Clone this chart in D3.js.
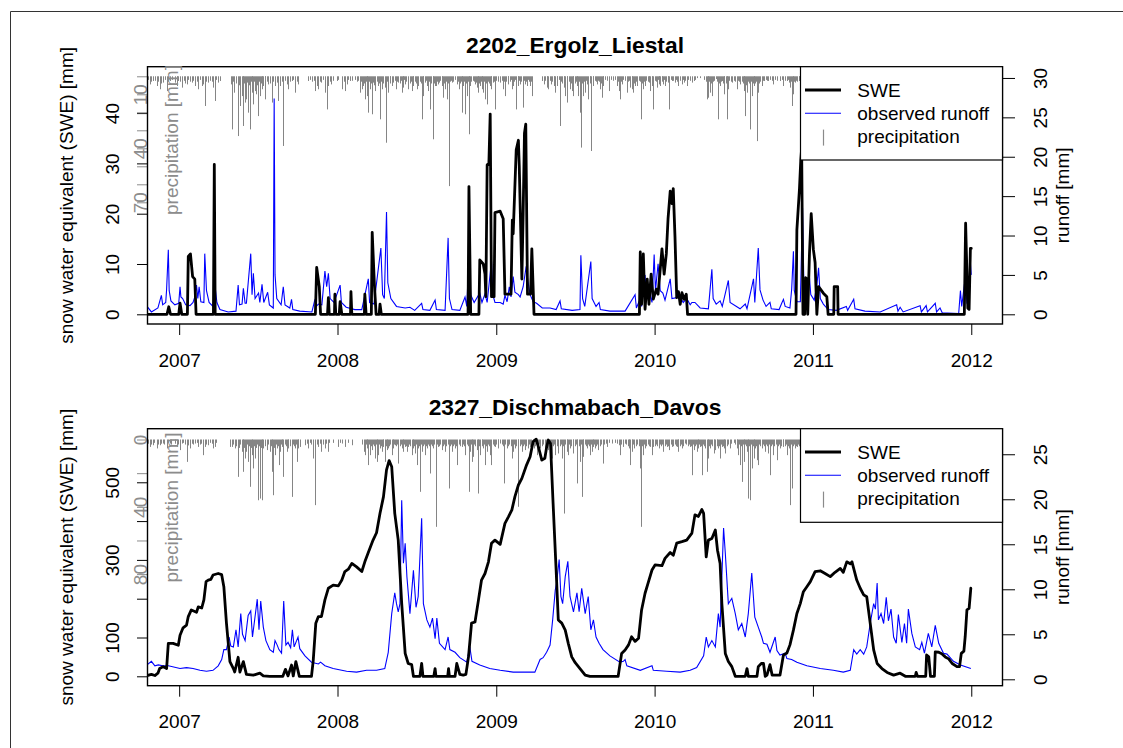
<!DOCTYPE html>
<html><head><meta charset="utf-8">
<script src="https://cdn.jsdelivr.net/npm/d3@7"></script>
<style>
body{margin:0;background:#fff;}
svg{display:block;font-family:"Liberation Sans",Arial,Helvetica,sans-serif;}
</style></head><body>
<svg id="chart" width="1123" height="748"></svg>
<script>
// Daily series sampled as [day offset from 2007-01-01, value] pairs.

// ---- 2202_Ergolz_Liestal ----
const ergolzSWE = [[-74,0],[-28,0],[-24,1.5],[-20,0],[-1,0],[2,2.2],[6,0],[19,0],[21,11.5],[26,12],[31,7.5],[36,7],[39,0],[79,0],[81,29.8],[83,0],
[314,0],[317,9.3],[323,5.5],[326,0],[342,0],[344,3.3],[346,0],[358,0],[359,4],[361,0],[369,0],[371,2.5],[375,0],[395,0],[396,4.5],[398,0],[427,0],[428,4],[431,0],[443,0],[445,16.3],[450,6],[454,0],[461,0],[463,2],[466,0],
[666,0],[668,25.4],[672,0],[691,0],[693,10.8],[701,10],[705,8],[707,3.5],[710,29.7],[714,30],[717,39.8],[720,3.5],[726,3.5],[728,20.2],[740,20.5],[747,19],[751,4],[765,4],[768,18.7],[770,16],[777,32.7],[782,34.6],[784,29.5],[790,7],[793,20],[796,36],[799,37.8],[803,4],[810,4],[813,13],[818,0],
[1061,0],[1063,12.4],[1066,2],[1070,12],[1074,1],[1079,7],[1083,2],[1088,8],[1093,3],[1100,5],[1104,4],[1113,13],[1118,8],[1123,12],[1127,19],[1132,24.5],[1136,22],[1139,25],[1143,15.4],[1147,3.3],[1151,4.5],[1155,2],[1159,4.3],[1164,3],[1169,4],[1172,0],
[1422,0],[1424,16.8],[1430,25],[1433,30.7],[1435,33],[1438,0],[1442,0],[1444,7.3],[1447,7],[1449,0],[1453,12],[1457,20],[1462,12.9],[1466,10.3],[1470,0],[1474,5.5],[1485,4.2],[1493,3.5],[1496,0],[1509,0],[1510,5.5],[1518,5.5],[1519,0],
[1810,0],[1813,18.1],[1818,1.2],[1821,1],[1824,13.1],[1826,13.1]];

const ergolzRunoff = [[-74,1.0],[-64,0.3],[-49,0.8],[-41,2.4],[-38,1.2],[-31,1.5],[-29,3.1],[-25,8.2],[-23,3],[-19,1.7],[-10,1.2],[-1,1.4],[2,3.5],[4,2.2],[8,2],[15,1.2],[25,1.1],[32,1.5],[36,2.2],[40,3.7],[43,2],[46,3.5],[50,1.6],[57,1.5],[59,7.7],[63,3],[69,1.5],[78,1.0],[82,3.9],[87,1.5],[94,0.6],[113,0.3],[131,0.4],
[136,3.7],[139,1.2],[145,1.3],[148,3.3],[152,1.4],[155,1.4],[165,7.7],[168,2.5],[171,5.2],[175,2],[183,2.7],[186,1.5],[191,3.8],[195,1.5],[204,2.8],[208,1.2],[217,0.8],[219,27.4],[221,5],[225,2],[235,1.2],[240,3.5],[244,1.2],[255,0.8],[259,1.9],[262,0.6],[278,0.4],[306,0.3],
[313,1.9],[316,1.0],[321,1.3],[329,1.2],[336,5.5],[340,3.5],[344,5.2],[348,2],[357,1.5],[371,3.7],[374,1.5],[385,0.9],[405,0.6],[421,0.6],[436,4.5],[439,1.5],[449,1.3],[465,8.4],[469,2.5],[473,2],[478,13.0],[481,4],[488,2],[501,1.0],[521,0.8],[532,0.9],[543,0.5],[559,1.4],[562,0.6],[578,0.5],[590,1.8],[593,0.6],[613,0.5],
[620,9.7],[623,2],[629,0.6],[647,0.5],[659,2.2],[663,1],[668,7.4],[672,2.5],[680,1.5],[693,2.7],[698,1.5],[705,2.6],[710,1.5],[720,6.8],[723,2.5],[728,1.5],[740,1.5],[747,1.3],[751,2.4],[756,1.6],[761,3.5],[765,2.2],[770,4.8],[774,2.8],[782,2.5],[786,2.2],[793,3.5],[800,6.1],[804,4.2],[809,2.5],[816,1.6],[824,1.4],[837,0.8],[855,0.8],[869,0.6],[878,1.7],[881,0.7],[906,0.5],
[924,0.6],[926,7.5],[930,2],[935,1],[949,6.7],[952,2],[961,1],[968,1.5],[971,0.6],[993,0.4],[1028,0.4],[1051,2.5],[1054,0.8],[1063,2],[1066,1],[1074,5],[1077,2],[1085,2.6],[1090,1.5],[1095,7.6],[1098,3],[1104,6.4],[1109,3],[1115,2.7],[1120,1.8],[1132,4.5],[1136,2],[1155,2.2],[1162,1.5],[1170,2],[1178,1.2],[1182,1.5],[1189,1.5],[1201,0.8],[1220,0.7],
[1228,5.7],[1231,2],[1238,1.3],[1247,1.7],[1252,1],[1266,4.3],[1270,1.5],[1293,0.7],[1305,1.3],[1309,0.7],[1324,4.5],[1327,1.5],[1335,8.4],[1339,3.1],[1346,1.8],[1353,1],[1362,1.5],[1365,0.7],[1383,0.6],[1389,1.4],[1393,1.9],[1397,1],[1408,0.8],[1412,3.2],[1416,8.0],[1418,3],[1424,1.6],[1432,1.6],[1437,13.5],[1440,4],[1441,2.2],[1448,2],[1452,5.4],[1456,2.5],[1464,1.8],[1470,3.7],[1474,5.9],[1478,2],[1485,1.3],[1496,0.6],[1515,0.5],
[1538,1.0],[1541,0.5],[1555,1.9],[1558,0.7],[1581,0.4],[1616,0.3],[1654,1.2],[1657,0.4],[1662,0.9],[1669,0.3],[1708,1.1],[1711,0.3],[1722,1.1],[1725,0.3],[1743,1.4],[1746,0.3],[1754,0.8],[1759,0.2],[1797,0.1],[1801,3.0],[1804,1],[1812,4.6],[1816,1.4],[1821,1.2],[1824,6.5],[1826,5]];

// larger daily precipitation totals
const ergolzPrecip = [[-68,4.5],[-60,2.6],[-52,5.4],[-45,7.2],[-37,3.5],[-29,8.2],[-21,2.6],[-6,5.4],[-2,2.6],[6,6.3],[17,4.5],[29,3.5],[36,5.4],[44,7.2],[52,5.4],[55,4.5],[59,16.5],[67,3.5],[79,6.3],[82,13.7],[94,2.6],
[119,4.5],[122,29.5],[127,9.1],[135,33.2],[140,16.5],[144,11],[148,27.6],[152,14.6],[155,12.8],[159,20.2],[163,29.5],[167,9.1],[171,15.6],[175,8.2],[178,10],[182,22.1],[186,11],[190,7.2],[194,5.4],[199,12.8],[205,4.5],[213,14.6],[221,5.4],[228,13.7],[232,5.4],[240,38.7],[248,4.5],[252,7.2],[259,2.6],[267,9.1],[275,4.5],
[298,2.6],[313,8.2],[317,5.4],[321,7.2],[328,3.5],[336,9.1],[340,18.4],[344,5.4],[351,4.5],[363,2.6],[375,7.2],[382,8.2],[386,4.5],[394,2.6],[417,9.1],[421,7.2],[424,5.4],[428,12.8],[432,11],[436,20.2],[440,7.2],[444,21.1],[451,8.2],[459,5.4],[463,23.9],[467,7.2],[474,6.3],[477,36.9],[482,9.1],[490,5.4],[501,7.2],[505,3.5],[513,9.1],[517,6.3],[521,4.5],[528,7.2],[536,8.2],[540,5.4],[548,7.2],[551,5.4],[559,23.9],[563,11],[571,5.4],[574,8.2],[578,18.4],[586,35],[590,5.4],
[592,5.4],[597,4.5],[605,5.4],[609,11.9],[613,7.2],[617,12.8],[621,61],[628,3.5],[640,4.5],[644,7.2],[651,20.2],[655,5.4],[659,21.1],[663,11],[667,32.2],[670,5.4],[682,4.5],[686,6.3],[690,9.1],[694,5.4],[697,7.2],[701,9.1],[705,12.8],[709,15.6],[717,5.4],[720,7.2],[728,18.4],[740,3.5],[747,7.2],[751,11],[759,4.5],[767,7.2],[770,5.4],[777,18.4],[782,5.4],[786,4.5],[792,17.4],[797,4.5],[801,5.4],[809,5.4],[813,11],
[836,2.6],[840,4.5],[847,6.3],[851,7.2],[857,4.5],[863,5.4],[867,9.1],[870,5.4],[877,27.6],[886,6.3],[890,11],[895,14.6],[901,7.2],[905,8.2],[909,11],[916,5.4],[920,11],[924,20.2],[926,39.6],[932,11],[936,9.1],[940,4.5],[943,12.8],[950,41.5],[955,5.4],[963,4.5],[970,7.2],[974,11.9],[978,5.4],[992,8.2],
[1009,5.4],[1013,8.2],[1016,12.8],[1020,4.5],[1032,9.1],[1040,6.3],[1043,7.2],[1047,9.1],[1051,5.4],[1056,5.4],[1064,23.9],[1070,7.2],[1074,5.4],[1082,3.5],[1086,8.2],[1089,5.4],[1093,18.4],[1101,6.3],[1105,4.5],[1109,5.4],[1116,4.5],[1120,5.4],[1126,3.5],[1130,18.4],[1136,2.6],[1143,3.5],[1151,5.4],[1159,4.5],[1163,3.5],[1170,5.4],[1182,3.5],[1186,2.6],[1193,1],[1201,1],
[1216,12.8],[1220,11.9],[1224,9.1],[1228,11],[1238,1.5],[1243,23.9],[1247,5.4],[1251,2.6],[1255,10],[1262,23.9],[1266,7.2],[1274,3.5],[1285,7.2],[1293,4.5],[1301,8.2],[1305,22.1],[1309,9.1],[1316,29.5],[1320,11],[1324,5.4],[1332,36],[1335,9.1],[1343,5.4],[1349,2.6],[1358,2.6],[1370,4.5],[1385,2.6],[1393,5.4],[1401,2.6],[1405,3.5],[1408,6.3],[1412,16.5],[1416,10],[1420,3.5],[1428,2.6]];

// small daily totals in between
const ergolzPrecipSmall = [[-71,2],[-64,3],[-56,2.5],[-48,3],[-41,4],[-33,2],[-25,3],[-17,2],[-10,3.5],[-4,2],[2,3],[10,2.5],[13,4],[21,2],[25,3],[33,2.5],[40,3],[48,2],[63,3],[71,2.5],[75,3],[86,2],[90,3.5],
[124,3],[130,4],[138,5],[146,3],[150,4],[157,3.5],[161,5],[165,3],[169,4],[173,3],[180,5],[184,3],[188,4],[192,3],[197,2.5],[202,3],[209,4],[217,3],[225,3.5],[236,3],[244,2.5],[255,3],[263,2],[271,3],
[302,2],[306,3],[310,2.5],[325,3],[332,2],[347,3],[355,2.5],[367,2],[379,3],[390,2],[398,2.5],[405,2],[410,3],[413,2.5],[419,3],[426,4],[430,3],[434,4],[438,3],[442,4],[447,3.5],[449,5],[455,3],[461,4],[465,3],[470,4],[479,3],[485,4],[487,3],[494,3.5],[497,2.5],[503,3],[509,4],[511,2.5],[515,3],[519,2],[524,3],[531,4],[534,3],[538,2.5],[544,3],[546,4],[555,3],[557,4],[561,3],[566,3.5],[569,2.5],[576,3],[581,4],[584,3],[588,4],
[594,3],[600,3.5],[602,2.5],[607,3],[611,4],[615,3],[619,4],[624,3],[626,2.5],[632,3],[636,2],[642,3],[647,4],[649,3],[653,4],[657,3],[661,4],[665,3],[669,4],[673,3],[677,2.5],[680,3],[684,3.5],[688,3],[692,4],[696,3],[699,2.5],[703,3],[707,4],[711,3],[714,4],[719,3],[723,3.5],[726,3],[731,2.5],[735,3],[744,2.5],[749,3],[754,3],[757,2.5],[762,3],[765,2],[773,3],[775,2],[780,3],[784,2.5],[789,3],[795,2.5],[799,3],[803,2],[806,3],[811,3],
[843,2.5],[849,3],[854,2.5],[860,3],[865,2.5],[872,3],[875,2],[880,3],[883,4],[888,3],[893,4],[898,3],[903,4],[907,3],[912,4],[914,3],[918,4],[922,3],[929,4],[934,3],[938,2.5],[946,3],[948,4],[953,3],[958,2.5],[961,3],[966,2.5],[968,3],[972,4],[976,3],[981,2],[986,2.5],[995,2],[1001,2.5],[1005,2],[1011,3],[1018,3],[1023,2],[1028,2.5],[1035,3],[1038,2.5],[1045,3],[1049,4],[1054,3],[1059,2.5],[1062,3],[1067,4],[1072,3],[1077,2.5],[1080,3],[1084,2.5],[1091,3],[1096,2.5],[1099,3],[1103,2],[1107,3],[1112,2.5],[1114,3],[1118,2],[1123,3],[1128,2.5],[1133,2],[1139,2.5],[1146,2],[1148,3],[1155,2.5],[1161,2],[1167,2.5],[1173,2],[1178,2.5],[1190,2],
[1211,2],[1214,3],[1218,4],[1222,3],[1226,4],[1230,3],[1233,2.5],[1241,3],[1245,4],[1249,3],[1253,4],[1257,3],[1260,4],[1264,3],[1268,2.5],[1271,3],[1278,2.5],[1281,3],[1288,2.5],[1290,3],[1297,3],[1299,4],[1303,3],[1307,5],[1311,3],[1313,4],[1318,3],[1322,4],[1326,3],[1328,4],[1330,3],[1337,4],[1340,3],[1346,2.5],[1352,2],[1355,2.5],[1362,2],[1366,2.5],[1374,2],[1378,2.5],[1389,2],[1397,2.5],[1403,2],[1410,3],[1414,4],[1418,3],[1422,2.5],[1425,3],[1430,2.5]];

// ---- 2327_Dischmabach_Davos ----
const davosSWE = [[-74,2],[-64,5],[-56,2],[-49,8],[-45,20],[-37,25],[-29,20],[-25,85],[-14,85],[-2,80],[2,106],[9,125],[17,132],[21,154],[28,171],[40,165],[44,179],[52,176],[57,197],[62,244],[67,248],[73,250],[78,261],[90,265],[98,262],[103,231],[109,137],[117,38],[125,20],[128,11],[136,49],[140,11],[148,38],[155,5],[171,3],[186,8],[194,1],[209,0],[239,0],[245,18],[251,1],[259,29],[263,1],[269,38],[277,0],
[305,0],[309,40],[315,137],[321,154],[328,154],[336,197],[344,227],[355,235],[367,233],[375,248],[382,270],[390,276],[398,291],[409,282],[421,270],[428,295],[436,319],[447,351],[455,370],[463,420],[471,463],[478,532],[484,556],[490,540],[497,420],[505,351],[513,188],[521,59],[528,33],[536,30],[540,0],[555,0],[559,33],[562,0],[587,0],[590,20],[592,0],[619,0],[621,20],[623,0],[636,0],[640,33],[647,5],[655,3],[661,5],
[667,50],[674,137],[682,140],[690,197],[697,248],[705,265],[713,295],[720,343],[728,351],[740,340],[751,394],[759,411],[767,429],[774,463],[782,493],[790,510],[801,545],[809,566],[816,605],[823,611],[828,592],[836,557],[843,562],[847,590],[851,609],[856,600],[862,446],[869,274],[874,145],[882,137],[890,119],[897,85],[905,50],[913,35],[924,20],[936,3],[947,0],
[1012,0],[1020,59],[1028,68],[1036,81],[1043,102],[1051,90],[1059,98],[1066,171],[1074,214],[1082,244],[1090,274],[1097,287],[1113,285],[1120,304],[1132,319],[1139,312],[1147,343],[1159,347],[1170,351],[1182,369],[1189,416],[1197,412],[1205,430],[1209,420],[1215,308],[1220,351],[1228,355],[1236,377],[1241,325],[1247,291],[1251,188],[1259,59],[1266,38],[1274,25],[1282,0],[1305,0],[1309,20],[1312,0],[1332,0],[1335,25],[1342,33],[1347,33],[1351,0],[1355,3],[1362,30],[1367,3],[1385,3],
[1393,55],[1401,60],[1408,81],[1416,119],[1424,162],[1432,188],[1439,218],[1447,231],[1455,244],[1466,270],[1478,272],[1489,265],[1501,257],[1512,268],[1524,278],[1531,268],[1539,295],[1547,290],[1551,295],[1562,248],[1570,227],[1578,210],[1585,205],[1593,137],[1601,68],[1609,33],[1620,20],[1632,10],[1647,3],[1662,8],[1674,0],[1697,0],[1699,10],[1702,0],[1721,0],[1723,55],[1728,50],[1732,0],[1741,0],[1743,63],[1751,62],[1758,58],[1766,50],[1774,45],[1782,33],[1793,25],[1799,25],[1803,59],[1809,65],[1812,102],[1816,171],[1821,175],[1825,227]];

const davosRunoff = [[-74,1.6],[-64,2.0],[-56,1.5],[-48,1.6],[-38,1.5],[-25,1.5],[-15,1.4],[2,1.2],[17,1.3],[32,1.2],[48,1.0],[63,0.9],[78,1.0],[90,1.5],[98,2.2],[103,3.3],[109,3.3],[115,4.7],[119,3.7],[125,3.6],[131,5.5],[136,3.6],[142,7.3],[146,5],[152,4.3],[159,7.1],[165,7.6],[169,4.7],[180,8.9],[184,5.5],[188,8.7],[194,5.8],[200,4.3],[209,3.3],[217,3.0],[221,4.3],[226,3.8],[230,3.3],[236,2.9],[241,8.7],[246,3.8],[251,4.1],[257,3.5],[261,5.5],[265,3.6],[274,4.7],[278,3.4],[290,2.6],[305,1.9],[321,1.7],[326,1.9],[336,1.5],[355,1.2],[386,0.9],[409,0.8],[432,1.0],[455,1.0],[474,1.2],
[482,3.0],[490,7.3],[497,9.6],[501,8.4],[505,7.5],[509,8.4],[513,19.9],[517,12.9],[521,15.1],[525,11.4],[532,7.3],[540,12.1],[546,8],[551,9.2],[559,17.9],[563,8.4],[571,6.6],[578,5.8],[584,6.8],[590,4.5],[594,6.8],[600,4.0],[613,3.3],[620,4.7],[624,3.3],[636,3.0],[647,2.4],[663,1.9],[670,3.6],[675,2],[693,1.6],[716,1.2],[740,1.0],[770,0.8],[801,0.8],[820,0.8],
[832,2.2],[839,2.4],[847,3.0],[855,3.8],[861,6.6],[867,9.9],[870,10.7],[876,13.3],[880,9.2],[884,8.4],[890,11.4],[896,13.1],[901,9.2],[909,7.5],[917,9.6],[922,7.5],[928,10.1],[936,7.3],[943,9.2],[949,5.5],[955,6.6],[961,4.7],[968,4.0],[977,3.3],[993,2.6],[1016,1.9],[1024,2.0],[1028,2.2],[1032,1.5],[1063,1.0],[1090,1.5],[1093,1.0],[1124,0.9],[1155,0.8],[1178,1.0],[1193,1.3],
[1209,2.6],[1215,4.7],[1220,3.6],[1228,4.3],[1236,3.6],[1243,7.3],[1247,5.8],[1255,16.8],[1259,14.0],[1266,8.4],[1274,9.0],[1282,7.3],[1289,5.5],[1297,6.2],[1305,4.7],[1312,7.3],[1320,11.8],[1327,6.9],[1335,5.8],[1343,4.7],[1347,4.0],[1355,3.9],[1362,3.0],[1374,4.7],[1378,3.2],[1385,2.7],[1397,2.9],[1401,2.3],[1412,2.2],[1424,1.9],[1447,1.5],[1478,1.2],[1508,1.0],[1531,0.8],[1547,1.0],
[1555,3.3],[1562,2.8],[1570,3.3],[1578,2.8],[1585,3.6],[1593,6.2],[1601,8.4],[1605,7.8],[1609,10.7],[1612,6.6],[1618,7.3],[1624,6.2],[1630,9.1],[1635,6.5],[1641,7.8],[1647,4.7],[1653,4.0],[1658,7.2],[1666,4.1],[1672,6.2],[1677,4],[1681,7.8],[1689,5.1],[1697,3.6],[1707,3.3],[1712,4.1],[1718,2.9],[1727,5.1],[1735,3.6],[1743,6.0],[1751,4.0],[1762,2.9],[1770,2.8],[1785,2.0],[1801,1.6],[1825,1.2]];

const davosPrecip = [[-68,4.4],[-60,3.4],[-52,5.3],[-45,3.4],[-37,2.4],[-29,5.3],[-21,2.4],[-6,4.4],[2,6.3],[6,2.4],[17,13.3],[25,5.3],[36,2.4],[44,4.4],[55,9.3],[59,4.4],[67,3.4],[79,5.3],[82,4.4],
[117,4.4],[122,4.4],[129,5.3],[136,22.2],[144,7.3],[148,19.2],[152,11.3],[155,7.3],[159,13.3],[163,28.1],[167,9.3],[171,17.2],[175,11.3],[182,36.1],[186,35.1],[190,36.1],[194,5.3],[202,6.3],[209,7.3],[213,19.2],[217,33.1],[221,9.3],[225,5.3],[229,15.2],[232,7.3],[236,4.4],[240,22.2],[248,7.3],[252,5.3],[259,34.1],[267,5.3],[271,13.3],[275,5.3],[278,4.4],
[290,3.4],[298,5.3],[309,11.3],[313,39],[321,4.4],[328,7.3],[336,5.3],[342,7.3],[367,4.4],[375,2.4],[382,4.4],[398,3.4],[425,7.3],[428,9.3],[432,5.3],[436,15.2],[440,9.3],[444,6.3],[451,11.3],[455,13.3],[459,9.3],[463,5.3],[467,7.3],[471,4.4],[474,13.3],[478,6.3],[482,5.3],[490,9.3],[494,5.3],[498,3.4],[505,14.3],[513,5.3],[517,7.3],[521,4.4],[525,7.3],[528,4.4],[536,9.3],[540,5.3],[544,8.3],[548,15.2],[551,5.3],[555,31.1],[559,7.3],[567,9.3],[571,5.3],[578,20.2],[586,5.3],
[592,51.9],[597,4.4],[605,6.3],[613,7.3],[621,29.1],[628,7.3],[636,5.3],[641,15.2],[651,4.4],[659,9.3],[667,31.1],[670,7.3],[674,13.3],[678,10.3],[686,6.3],[690,32.1],[694,9.3],[701,5.3],[705,15.2],[709,7.3],[717,9.3],[720,15.2],[728,4.4],[736,5.3],[740,2.4],[749,26.1],[755,5.3],[767,11.3],[770,7.3],[774,5.3],[782,40],[790,7.3],[797,6.3],[803,5.3],[809,4.4],[817,5.3],[824,9.3],[832,5.3],[843,7.3],[851,6.3],[859,11.3],[867,9.3],[874,8.3],[882,11.3],[887,44],[893,7.3],[897,9.3],[901,5.3],[909,8.3],[916,9.3],[918,26.1],[924,13.3],[928,34.1],[932,10.3],[940,5.3],[947,9.3],[951,7.3],[955,4.4],[959,5.3],[966,6.3],[976,14.3],[986,4.4],[997,2.4],
[1013,3.4],[1016,9.3],[1023,4.4],[1036,5.3],[1040,15.2],[1043,7.3],[1049,5.3],[1063,17.2],[1064,51.9],[1070,9.3],[1074,5.3],[1086,4.4],[1089,9.3],[1093,4.4],[1105,5.3],[1116,7.3],[1124,4.4],[1130,6.3],[1136,4.4],[1147,4.4],[1151,7.3],[1159,5.3],[1166,2.4],[1178,4.4],[1182,21.2],[1186,6.3],[1193,7.3],[1197,5.3],[1201,4.4],[1205,21.2],[1213,5.3],[1216,19.2],[1220,11.3],[1224,5.3],[1232,8.3],[1236,6.3],[1243,5.3],
[1247,11.3],[1251,4.4],[1255,5.3],[1259,8.3],[1270,5.3],[1285,5.3],[1289,9.3],[1293,15.2],[1297,25.2],[1301,13.3],[1309,7.3],[1312,35.1],[1316,36.1],[1320,17.2],[1324,11.3],[1328,5.3],[1332,12.3],[1335,15.2],[1343,5.3],[1351,7.3],[1358,8.3],[1362,21.2],[1370,9.3],[1378,12.3],[1385,5.3],[1393,4.4],[1401,9.3],[1405,5.3],[1408,39],[1412,29.1],[1420,5.3],[1424,4.4]];

const davosPrecipSmall = [[-72,2.5],[-65,3],[-57,2],[-49,3],[-42,2.5],[-34,3],[-26,2],[-18,3],[-10,2.5],[-3,3],[9,2],[13,3],[21,3.5],[29,2.5],[32,3],[40,2],[48,3],[51,2.5],[63,3],[71,2],[75,2.5],[86,2],
[125,3],[132,4],[139,5],[141,3],[146,4],[150,5],[157,3],[161,4],[165,5],[169,3],[173,4],[178,5],[180,3],[184,4],[188,5],[192,3],[198,4],[205,3],[211,4],[215,3],[219,5],[223,3],[227,4],[234,3],[238,4],[244,3],[246,4],[250,3],[255,4],[262,3],[264,4],[269,3],[273,2.5],
[294,2.5],[302,2],[305,3],[317,3],[325,2.5],[332,3],[339,2.5],[346,2],[355,2],[371,2],[390,2],[421,3],[430,3],[434,4],[438,3],[442,4],[447,3],[449,4],[453,3],[457,4],[461,3],[465,4],[469,3],[476,4],[480,3],[484,4],[487,3],[492,4],[496,3],[501,4],[503,3],[509,4],[511,3],[515,4],[519,3],[523,4],[530,3],[532,4],[538,3],[542,4],[546,3],[553,4],[557,3],[561,4],[565,3],[569,4],[573,3],[576,4],[580,3],[583,4],[588,3],
[595,3],[599,4],[602,3],[608,4],[611,3],[616,4],[619,3],[624,4],[626,3],[632,4],[634,3],[639,4],[644,3],[647,4],[655,3],[657,4],[663,3],[665,4],[672,3],[676,4],[680,3],[683,4],[688,3],[692,4],[697,3],[699,4],[703,3],[707,4],[712,3],[715,4],[723,3],[726,4],[731,3],[734,4],[744,3],[747,4],[752,3],[758,4],[761,3],[764,4],[772,3],[777,4],[780,3],[785,4],[788,3],[793,4],[795,3],[800,4],[806,3],[812,4],[815,3],[820,4],[822,3],[828,4],[830,3],[836,4],[839,3],[845,4],[848,3],[854,4],[857,3],[862,4],[865,3],[870,4],[872,3],[877,4],[880,3],[885,4],[890,3],[895,4],[899,3],[904,4],[907,3],[912,4],[914,3],[921,4],[926,3],[930,4],[935,3],[938,4],[943,3],[945,4],[949,3],[953,4],[957,3],[962,4],[964,3],[969,4],[972,3],[979,3],[983,2.5],[991,2],
[1005,2],[1010,2.5],[1019,3],[1027,2.5],[1030,3],[1034,4],[1038,3],[1045,4],[1047,3],[1052,4],[1055,3],[1059,4],[1061,3],[1067,4],[1072,3],[1077,4],[1080,3],[1083,4],[1091,3],[1096,4],[1099,3],[1102,4],[1108,3],[1111,4],[1114,3],[1119,4],[1122,3],[1127,4],[1133,3],[1139,4],[1142,3],[1145,4],[1149,3],[1154,4],[1157,3],[1162,4],[1169,3],[1172,4],[1176,3],[1180,4],[1184,3],[1189,4],[1191,3],[1195,4],[1199,3],[1203,4],[1208,3],[1211,4],[1218,3],[1222,4],[1226,3],[1229,4],[1234,3],[1239,4],[1241,3],[1245,4],
[1249,3],[1253,4],[1257,3],[1262,4],[1266,3],[1273,2.5],[1278,2],[1282,3],[1287,4],[1291,3],[1295,4],[1299,3],[1303,4],[1305,3],[1307,4],[1311,3],[1314,4],[1318,3],[1322,4],[1326,3],[1330,4],[1337,3],[1340,4],[1346,3],[1349,4],[1353,3],[1356,4],[1360,3],[1364,4],[1367,3],[1372,4],[1375,3],[1381,4],[1383,3],[1388,4],[1391,3],[1396,4],[1399,3],[1403,4],[1410,3],[1414,4],[1418,3],[1422,4],[1426,3],[1430,4]];

// Axis ticks and labels
const yearTicks = [2007, 2008, 2009, 2010, 2011, 2012];
const ergolzSWETicks = [0, 10, 20, 30, 40];
const ergolzSWELabels = [0, 10, 20, 30, 40];
const ergolzPrecipTicks = [0, 10, 20, 30, 40, 50, 60, 70];
const ergolzPrecipLabels = [10, 40, 70];
const ergolzRunoffTicks = [0, 5, 10, 15, 20, 25, 30];
const davosSWETicks = [0, 100, 200, 300, 400, 500];
const davosSWELabels = [0, 100, 300, 500];
const davosPrecipTicks = [0, 20, 40, 60, 80];
const davosPrecipLabels = [0, 40, 80];
const davosRunoffTicks = [0, 5, 10, 15, 20, 25];
const legendLabels = ["SWE", "observed runoff", "precipitation"];

const panels = [
  {title: "2202_Ergolz_Liestal", top: 66.7, bottom: 324,
   swe: ergolzSWE, runoff: ergolzRunoff, precip: ergolzPrecipSmall.concat(ergolzPrecip),
   sweDom: [-1.928, 49.22], runoffDom: [-1.231, 31.43], precipDom: [-5.33, 137.6],
   sweTicks: ergolzSWETicks, sweLabels: ergolzSWELabels,
   precipTicks: ergolzPrecipTicks, precipLabels: ergolzPrecipLabels,
   runoffTicks: ergolzRunoffTicks, precipTitleY: 140, legendH: 93.3},
  {title: "2327_Dischmabach_Davos", top: 428.7, bottom: 685.7,
   swe: davosSWE, runoff: davosRunoff, precip: davosPrecipSmall.concat(davosPrecip),
   sweDom: [-24.2, 638.1], runoffDom: [-0.711, 27.84], precipDom: [-6.42, 146.3],
   sweTicks: davosSWETicks, sweLabels: davosSWELabels,
   precipTicks: davosPrecipTicks, precipLabels: davosPrecipLabels,
   runoffTicks: davosRunoffTicks, precipTitleY: 507.5, legendH: 93.6}
];

const svg = d3.select("#chart");
const FONT = 19;
const base = Date.UTC(2007, 0, 1);
const day = d => new Date(base + d * 864e5);
const L = 147.5, R = 1002.5;
const x = d3.scaleUtc().domain([Date.UTC(2006, 9, 20), Date.UTC(2012, 2, 13)]).range([L, R]);

// outer frame
svg.append("path").attr("d", "M10.5,748V11.5H1123").attr("fill", "none").attr("stroke", "#333").attr("stroke-width", 1);

function styleAxis(s, color) {
  s.attr("font-size", FONT).attr("font-family", null);
  s.select(".domain").remove();
  s.selectAll(".tick line").attr("stroke", color).attr("stroke-width", 1);
  s.selectAll(".tick text").attr("fill", color).attr("dy", null).attr("x", null).attr("y", null);
}

panels.forEach((p, i) => {
  const g = svg.append("g");
  const yS = d3.scaleLinear().domain(p.sweDom).range([p.bottom, p.top]);
  const yQ = d3.scaleLinear().domain(p.runoffDom).range([p.bottom, p.top]);
  const yP = d3.scaleLinear().domain(p.precipDom).range([p.top, p.bottom]);

  const clipId = "clip" + i;
  svg.append("clipPath").attr("id", clipId).append("rect")
    .attr("x", L).attr("y", p.top).attr("width", R - L).attr("height", p.bottom - p.top);
  const data = g.append("g").attr("clip-path", `url(#${clipId})`);

  // precipitation hanging from the top
  data.append("g").selectAll("line").data(p.precip).join("line")
    .attr("x1", d => Math.round(x(day(d[0]))) + 0.5)
    .attr("x2", d => Math.round(x(day(d[0]))) + 0.5)
    .attr("y1", yP(0)).attr("y2", d => yP(d[1]))
    .attr("stroke", "#858585").attr("stroke-width", 1);

  // observed runoff
  data.append("path").datum(p.runoff)
    .attr("d", d3.line().x(d => x(day(d[0]))).y(d => yQ(d[1])))
    .attr("fill", "none").attr("stroke", "#0000ff").attr("stroke-width", 1.1);

  // snow water equivalent
  data.append("path").datum(p.swe)
    .attr("d", d3.line().x(d => x(day(d[0]))).y(d => yS(d[1])))
    .attr("fill", "none").attr("stroke", "#000").attr("stroke-width", 2.8)
    .attr("stroke-linejoin", "round").attr("stroke-linecap", "round");

  // left SWE axis
  g.append("g").attr("transform", `translate(${L},0)`)
    .call(d3.axisLeft(yS).tickValues(p.sweTicks).tickSize(10.5).tickSizeOuter(0)
      .tickFormat(v => p.sweLabels.includes(v) ? String(v) : ""))
    .call(s => styleAxis(s, "#000"))
    .call(s => s.selectAll(".tick text").attr("text-anchor", "middle").attr("transform", "translate(-29,0) rotate(-90)"));

  // precipitation axis (reversed, same side)
  g.append("g").attr("transform", `translate(${L},0)`)
    .call(d3.axisLeft(yP).tickValues(p.precipTicks).tickSize(10.5).tickSizeOuter(0)
      .tickFormat(v => p.precipLabels.includes(v) ? String(v) : ""))
    .call(s => styleAxis(s, "#8c8c8c"))
    .call(s => s.selectAll(".tick text").attr("text-anchor", "middle").attr("transform", "translate(-1,0) rotate(-90)"));

  // right runoff axis
  g.append("g").attr("transform", `translate(${R},0)`)
    .call(d3.axisRight(yQ).tickValues(p.runoffTicks).tickSize(12.5).tickSizeOuter(0))
    .call(s => styleAxis(s, "#000"))
    .call(s => s.selectAll(".tick text").attr("text-anchor", "middle").attr("transform", "translate(44.2,0) rotate(-90)"));

  // bottom time axis
  g.append("g").attr("transform", `translate(0,${p.bottom})`)
    .call(d3.axisBottom(x).tickValues(yearTicks.map(y => new Date(Date.UTC(y, 0, 1)))).tickSize(11).tickSizeOuter(0)
      .tickFormat(d3.utcFormat("%Y")))
    .call(s => styleAxis(s, "#000"))
    .call(s => s.selectAll(".tick text").attr("y", 42.8));

  // plot box
  g.append("rect").attr("x", L).attr("y", p.top).attr("width", R - L).attr("height", p.bottom - p.top)
    .attr("fill", "none").attr("stroke", "#000").attr("stroke-width", 1.4);

  const cy = (p.top + p.bottom) / 2;
  g.append("text").attr("transform", `translate(73.3,${cy}) rotate(-90)`).attr("text-anchor", "middle")
    .attr("font-size", FONT).text("snow water equivalent (SWE) [mm]");
  g.append("text").attr("transform", `translate(177.7,${p.precipTitleY}) rotate(-90)`).attr("text-anchor", "middle")
    .attr("font-size", FONT).attr("fill", "#8c8c8c").text("precipitation [mm]");
  g.append("text").attr("transform", `translate(1069,${cy}) rotate(-90)`).attr("text-anchor", "middle")
    .attr("font-size", FONT).text("runoff [mm]");

  // title
  g.append("text").attr("x", (L + R) / 2).attr("y", p.top - 13.5).attr("text-anchor", "middle")
    .attr("font-size", 22.8).attr("font-weight", "bold").text(p.title);

  // legend
  const lg = g.append("g");
  lg.append("rect").attr("x", 800.5).attr("y", p.top).attr("width", R - 800.5).attr("height", p.legendH)
    .attr("fill", "#fff").attr("stroke", "#000").attr("stroke-width", 1.2);
  legendLabels.forEach((lab, k) => {
    const ey = p.top + 23.3 * (k + 1);
    if (k === 0) lg.append("line").attr("x1", 805).attr("x2", 841).attr("y1", ey).attr("y2", ey).attr("stroke", "#000").attr("stroke-width", 2.8);
    if (k === 1) lg.append("line").attr("x1", 805).attr("x2", 841).attr("y1", ey).attr("y2", ey).attr("stroke", "#0000ff").attr("stroke-width", 1.1);
    if (k === 2) lg.append("line").attr("x1", 823.5).attr("x2", 823.5).attr("y1", ey - 7).attr("y2", ey + 9).attr("stroke", "#8a8a8a").attr("stroke-width", 1.2);
    lg.append("text").attr("x", 857.3).attr("y", ey + 6.7).attr("font-size", FONT).text(lab);
  });
});
</script>
</body></html>
